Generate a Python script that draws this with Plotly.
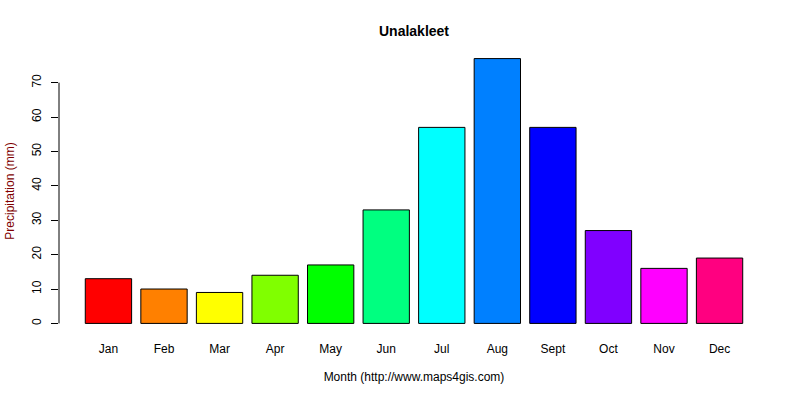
import plotly.graph_objects as go

months = ["Jan", "Feb", "Mar", "Apr", "May", "Jun", "Jul", "Aug", "Sept", "Oct", "Nov", "Dec"]
precip = [13, 10, 9, 14, 17, 33, 57, 77, 57, 27, 16, 19]
colors = ["#FF0000", "#FF8000", "#FFFF00", "#80FF00", "#00FF00", "#00FF80",
          "#00FFFF", "#0080FF", "#0000FF", "#8000FF", "#FF00FF", "#FF0080"]
y_ticks = [0, 10, 20, 30, 40, 50, 60, 70]

font = "Liberation Sans, Arial, sans-serif"

fig = go.Figure(go.Bar(
    x=months, y=precip,
    marker=dict(color=colors, line=dict(color="black", width=1)),
    hoverinfo="x+y",
))

fig.update_layout(
    width=800, height=400,
    margin=dict(l=59, r=31, t=48, b=66),
    paper_bgcolor="white", plot_bgcolor="white",
    bargap=0.166,
    showlegend=False,
    font=dict(family=font, size=12, color="black"),
    title=dict(text="<b>Unalakleet</b>", x=0.5, xref="paper", xanchor="center",
               y=1 - 31 / 400, yref="container", yanchor="middle",
               font=dict(family=font, size=14, color="black")),
)

fig.update_xaxes(
    type="category", range=[-0.89, 11.89], automargin=False,
    showline=False, showgrid=False, zeroline=False, ticks="",
    ticklabelstandoff=6,
    tickfont=dict(family=font, size=12, color="black"),
    title=dict(text="Month (http://www.maps4gis.com)", standoff=17,
               font=dict(family=font, size=12, color="black")),
)
fig.update_yaxes(
    range=[-3.08, 80.08], automargin=False,
    showline=False, showgrid=False, zeroline=False,
    tickmode="array", tickvals=y_ticks, ticktext=[str(v) for v in y_ticks],
    ticks="outside", ticklen=7, tickcolor="black", tickwidth=1,
    tickangle=-90, ticklabelstandoff=5,
    tickfont=dict(family=font, size=12, color="black"),
    title=dict(text="Precipitation (mm)", standoff=13,
               font=dict(family=font, size=12, color="#800000")),
)

# R-style axis line spanning only first to last tick
fig.add_shape(type="line", xref="paper", yref="y",
              x0=0, x1=0, y0=y_ticks[0], y1=y_ticks[-1],
              line=dict(color="black", width=1))

fig.write_html("out.html")
